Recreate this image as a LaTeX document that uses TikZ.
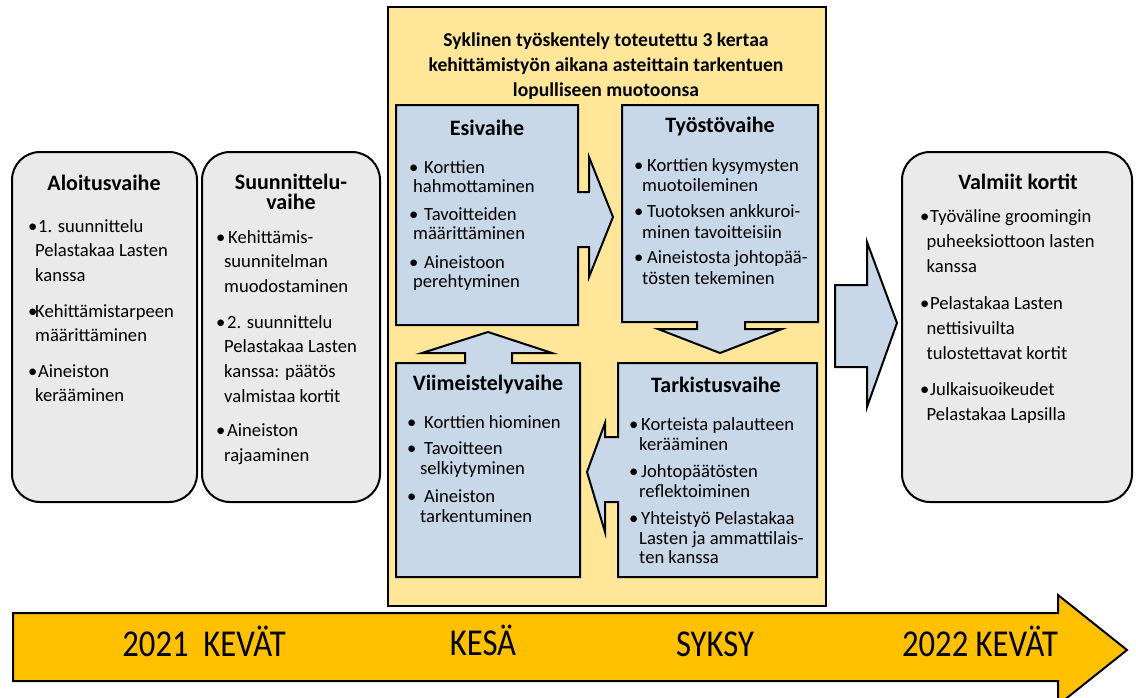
\documentclass[tikz,border=0pt]{standalone}
\usepackage{fontspec}
\setmainfont{Carlito}
\definecolor{paleyellow}{RGB}{255,230,153}
\definecolor{gold}{RGB}{255,192,0}
\definecolor{lightblue}{RGB}{201,216,232}
\definecolor{lightgrey}{RGB}{234,234,234}
\providecommand{\RoundBox}[2]{
\draw[line width=2pt,rounded corners=28pt,fill=lightgrey] (#1) rectangle (#2);
}
\providecommand{\Itm}[2]{\makebox[#1][l]{\textbullet}#2}
\providecommand{\Cont}[2]{\hspace*{#1}#2}
\tikzset{
  phase/.style={line width=2pt,fill=lightblue},
  phasetitle/.style={font=\fontsize{22}{20}\selectfont\bfseries,align=center,inner sep=0pt},
  phasetext/.style={anchor=north west,align=left,inner sep=0pt},
  widetext/.style={phasetext,font=\fontsize{18.6}{24.8}\selectfont},
  narrowtext/.style={phasetext,font=\fontsize{18.6}{19.5}\selectfont},
  season/.style={anchor=base,inner sep=0pt,font=\fontsize{38}{38}\selectfont}
}
\begin{document}
\begin{tikzpicture}[x=1pt,y=-1pt]
\useasboundingbox (0,0) rectangle (1136,697);
\draw[line width=2pt,fill=gold] (13,613) -- (1058,613) -- (1058,595) -- (1127,650) -- (1058,705) -- (1058,681) -- (13,681) -- cycle;
\draw[line width=2pt,fill=paleyellow] (388,7) rectangle (826,606);
\RoundBox{12,152}{197,502}
\RoundBox{202,152}{380,502}
\RoundBox{902,152}{1132,502}
\draw[phase] (835,285) -- (867,285) -- (867,242) -- (897,323) -- (867,407) -- (867,367) -- (835,367) -- cycle;
\draw[phase] (396,105) -- (578,105) -- (578,192) -- (589,192) -- (589,157) -- (613,217) -- (589,277) -- (589,247) -- (578,247) -- (578,325) -- (396,325) -- cycle;
\draw[phase] (622,105) -- (818,105) -- (818,322) -- (745,322) -- (745,329) -- (782,329) -- (720,353) -- (658,329) -- (697,329) -- (697,322) -- (622,322) -- cycle;
\draw[phase] (618,363) -- (817,363) -- (817,577) -- (618,577) -- (618,502) -- (605,502) -- (605,532) -- (587,472) -- (605,423) -- (605,437) -- (618,437) -- cycle;
\draw[phase] (396,363) -- (465,363) -- (465,353) -- (422,353) -- (488,332) -- (552,353) -- (512,353) -- (512,363) -- (580,363) -- (580,577) -- (396,577) -- cycle;

\node[font=\fontsize{19.6}{25}\selectfont\bfseries,align=center,anchor=base,inner sep=0pt] (header) at (606,96)
  {Syklinen työskentely toteutettu 3 kertaa\\kehittämistyön aikana asteittain tarkentuen\\lopulliseen muotoonsa};

\node[phasetitle] (aloitusTitle) at (104,183) {Aloitusvaihe};
\node[widetext] (aloitusText) at (28,219) {\Itm{10pt}{1. suunnittelu}\\\Cont{7pt}{Pelastakaa Lasten}\\\Cont{7pt}{kanssa}\\[10.5pt]
  \Itm{7pt}{Kehittämistarpeen}\\\Cont{7pt}{määrittäminen}\\[10.5pt]
  \Itm{10pt}{Aineiston}\\\Cont{7pt}{kerääminen}};

\node[phasetitle] (suunnTitle) at (291,192) {Suunnittelu-\\vaihe};
\node[widetext] (suunnText) at (216,230) {\Itm{12pt}{Kehittämis-}\\\Cont{8pt}{suunnitelman}\\\Cont{8pt}{muodostaminen}\\[10.5pt]
  \Itm{11pt}{2. suunnittelu}\\\Cont{8pt}{Pelastakaa Lasten}\\\Cont{8pt}{kanssa: päätös}\\\Cont{8pt}{valmistaa kortit}\\[9pt]
  \Itm{11pt}{Aineiston}\\\Cont{8pt}{rajaaminen}};

\node[phasetitle] (valmiitTitle) at (1018,182) {Valmiit kortit};
\node[widetext] (valmiitText) at (920,209.5) {\Itm{10pt}{Työväline groomingin}\\\Cont{6.5pt}{puheeksiottoon lasten}\\\Cont{6.5pt}{kanssa}\\[12.5pt]
  \Itm{10pt}{Pelastakaa Lasten}\\\Cont{6.5pt}{nettisivuilta}\\\Cont{6.5pt}{tulostettavat kortit}\\[12pt]
  \Itm{10pt}{Julkaisuoikeudet}\\\Cont{6.5pt}{Pelastakaa Lapsilla}};

\node[phasetitle] (esiTitle) at (487,128) {Esivaihe};
\node[narrowtext] (esiText) at (409,160) {\Itm{15pt}{Korttien}\\\Cont{4pt}{hahmottaminen}\\[8pt]
  \Itm{15pt}{Tavoitteiden}\\\Cont{4pt}{määrittäminen}\\[9pt]
  \Itm{15pt}{Aineistoon}\\\Cont{4pt}{perehtyminen}};

\node[phasetitle] (tyostoTitle) at (720,127) {Työstövaihe};
\node[narrowtext,font=\fontsize{18.6}{20.8}\selectfont] (tyostoText) at (634,158) {\Itm{13pt}{Korttien kysymysten}\\\Cont{8pt}{muotoileminen}\\[4.5pt]
  \Itm{13pt}{Tuotoksen ankkuroi-}\\\Cont{8pt}{minen tavoitteisiin}\\[4.5pt]
  \Itm{13pt}{Aineistosta johtopää-}\\\Cont{8pt}{tösten tekeminen}};

\node[phasetitle] (viimTitle) at (488,385) {Viimeistelyvaihe};
\node[narrowtext] (viimText) at (407,415) {\Itm{17pt}{Korttien hiominen}\\[7pt]
  \Itm{17pt}{Tavoitteen}\\\Cont{13pt}{selkiytyminen}\\[9pt]
  \Itm{17pt}{Aineiston}\\\Cont{13pt}{tarkentuminen}};

\node[phasetitle] (tarkTitle) at (716,385) {Tarkistusvaihe};
\node[narrowtext] (tarkText) at (629,417.5) {\Itm{12pt}{Korteista palautteen}\\\Cont{10pt}{kerääminen}\\[8pt]
  \Itm{12pt}{Johtopäätösten}\\\Cont{10pt}{reflektoiminen}\\[8pt]
  \Itm{12pt}{Yhteistyö Pelastakaa}\\\Cont{10pt}{Lasten ja ammattilais-}\\\Cont{10pt}{ten kanssa}};

\node[season] (kevat21) at (204,656) {\scalebox{0.86}[1]{2021\ \ KEVÄT}};
\node[season] (kesa) at (483,655) {\scalebox{0.86}[1]{KESÄ}};
\node[season] (syksy) at (715,656) {\scalebox{0.86}[1]{SYKSY}};
\node[season] (kevat22) at (980,656) {\scalebox{0.86}[1]{2022 KEVÄT}};
\end{tikzpicture}
\end{document}
